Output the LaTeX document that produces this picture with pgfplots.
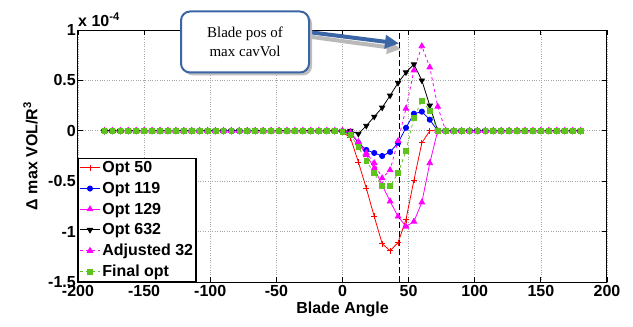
\documentclass[border=0pt]{standalone}
\usepackage{fontspec}
\setmainfont{Liberation Sans}
\newfontfamily\calloutfont{Liberation Serif}
\usepackage{pgfplots}
\usepackage{pgfplotstable}
\pgfplotsset{compat=1.18}
\usetikzlibrary{shadows,arrows.meta}
\definecolor{calloutblue}{RGB}{58,102,166}
\definecolor{optgreen}{RGB}{95,195,30}
\definecolor{optmag}{RGB}{255,0,255}
\definecolor{optred}{RGB}{255,0,0}
\definecolor{optblue}{RGB}{0,0,255}

\pgfplotstableread{
x r b m k a g
-180 0 0 0 0 0 0
-174 0 0 0 0 0 0
-168 0 0 0 0 0 0
-162 0 0 0 0 0 0
-156 0 0 0 0 0 0
-150 0 0 0 0 0 0
-144 0 0 0 0 0 0
-138 0 0 0 0 0 0
-132 0 0 0 0 0 0
-126 0 0 0 0 0 0
-120 0 0 0 0 0 0
-114 0 0 0 0 0 0
-108 0 0 0 0 0 0
-102 0 0 0 0 0 0
-96 0 0 0 0 0 0
-90 0 0 0 0 0 0
-84 0 0 0 0 0 0
-78 0 0 0 0 0 0
-72 0 0 0 0 0 0
-66 0 0 0 0 0 0
-60 0 0 0 0 0 0
-54 0 0 0 0 0 0
-48 0 0 0 0 0 0
-42 0 0 0 0 0 0
-36 0 0 0 0 0 0
-30 0 0 0 0 0 0
-24 0 0 0 0 0 0
-18 0 0 0 0 0 0
-12 0 0 0 0 0 0
-6 0 0 0 0 0 0
0 -0.01 -0.01 0 0 0 -0.01
6 -0.07 -0.02 -0.01 0 -0.02 -0.04
12 -0.31 -0.12 -0.12 -0.03 -0.11 -0.16
18 -0.57 -0.19 -0.24 0.05 -0.22 -0.30
24 -0.85 -0.22 -0.37 0.14 -0.32 -0.42
30 -1.12 -0.25 -0.54 0.23 -0.47 -0.55
36 -1.19 -0.21 -0.70 0.35 -0.39 -0.55
42 -1.11 -0.12 -0.85 0.475 -0.10 -0.42
48 -0.88 0.03 -0.95 0.58 0.22 -0.20
54 -0.49 0.17 -0.90 0.66 0.60 0.13
60 -0.12 0.19 -0.71 0.50 0.84 0.30
66 0 0.11 -0.32 0.25 0.63 0.20
72 0 0 0 0 0.24 0
78 0 0 0 0 0 0
84 0 0 0 0 0 0
90 0 0 0 0 0 0
96 0 0 0 0 0 0
102 0 0 0 0 0 0
108 0 0 0 0 0 0
114 0 0 0 0 0 0
120 0 0 0 0 0 0
126 0 0 0 0 0 0
132 0 0 0 0 0 0
138 0 0 0 0 0 0
144 0 0 0 0 0 0
150 0 0 0 0 0 0
156 0 0 0 0 0 0
162 0 0 0 0 0 0
168 0 0 0 0 0 0
174 0 0 0 0 0 0
180 0 0 0 0 0 0
}\data

\begin{document}
\begin{tikzpicture}
\path[use as bounding box] (-78pt,-45pt) rectangle (555pt,282pt);
\begin{axis}[
  at={(0,0)}, anchor=south west,
  scale only axis, width=529pt, height=252pt,
  xmin=-200, xmax=200, ymin=-1.5, ymax=1,
  xtick={-200,-150,...,200},
  ytick={-1.5,-1,-0.5,0,0.5,1},
  grid=major,
  grid style={dotted, gray!70, line width=0.7pt},
  tick align=inside,
  major tick length=5pt,
  axis line style={line width=1pt},
  tick style={line width=0.8pt, black},
  ticklabel style={font=\fontsize{16}{16}\selectfont\bfseries},
  yticklabel style={inner xsep=2pt},
  xticklabel style={inner ysep=3pt},
  /pgf/number format/assume math mode=true,
  xlabel={Blade Angle},
  ylabel={Δ max VOL/R\textsuperscript{3}},
  xlabel style={font=\fontsize{16}{16}\selectfont\bfseries, at={(axis description cs:0.5,-0.11)}, anchor=center},
  ylabel style={font=\fontsize{16}{16}\selectfont\bfseries, at={(axis description cs:-0.09,0.5)}, anchor=center},
  every axis plot/.append style={line width=0.8pt},
  legend style={at={(rel axis cs:0,0)}, anchor=south west, draw=black, line width=1.2pt, fill=white,
    font=\fontsize{16}{16}\selectfont\bfseries, inner sep=1pt, row sep=4pt},
  legend cell align=left,
  legend image code/.code={\draw[mark repeat=2,mark phase=2] plot coordinates {(0pt,0pt) (10pt,0pt) (20pt,0pt)};},
]
\addplot[optred, mark=+, mark size=3pt] table[x=x,y=r] {\data};
\addlegendentry{Opt 50}
\addplot[optblue, mark=*, mark size=2.6pt] table[x=x,y=b] {\data};
\addlegendentry{Opt 119}
\addplot[optmag, mark=triangle*, mark size=3.2pt] table[x=x,y=m] {\data};
\addlegendentry{Opt 129}
\addplot[black, mark=triangle*, mark options={rotate=180}, mark size=3pt] table[x=x,y=k] {\data};
\addlegendentry{Opt 632}
\addplot[optmag, dashed, mark=triangle*, mark options={solid}, mark size=3.2pt] table[x=x,y=a] {\data};
\addlegendentry{Adjusted 32}
\addplot[optgreen, dashed, mark=square*, mark options={solid}, mark size=2.4pt] table[x=x,y=g] {\data};
\addlegendentry{Final opt}
\addplot[black, line width=1.5pt, dash pattern=on 6pt off 3pt, forget plot] coordinates {(43,-1.5) (43,1)};
\end{axis}
\node[anchor=south west, inner sep=0pt, font=\fontsize{16}{16}\selectfont\bfseries] at (0pt,255pt) {x 10\textsuperscript{-4}};
\draw[gray!55, line width=4pt, -{Triangle[length=14pt,width=13pt]}] (234pt,245pt) -- (323pt,233pt);
\draw[calloutblue, line width=4pt, -{Triangle[length=14pt,width=13pt]}] (230pt,250pt) -- (321pt,238.5pt);
\node[draw=calloutblue, line width=2pt, rounded corners=9pt, fill=white, minimum width=128pt, minimum height=61pt,
  align=center, font=\calloutfont\fontsize{15}{19}\selectfont,
  drop shadow={shadow xshift=3pt, shadow yshift=-3pt, fill=gray!50, opacity=1}] at (167pt,240pt) {Blade pos of\\max cavVol};
\end{tikzpicture}
\end{document}
